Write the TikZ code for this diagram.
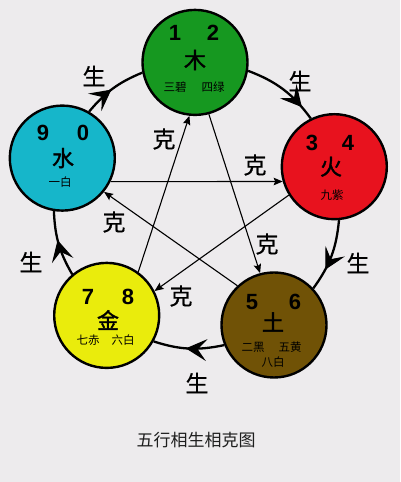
\documentclass[tikz,border=0pt]{standalone}
\usepackage{fontspec}
\setmainfont{Noto Sans CJK SC}
\newfontfamily\cjkb[FakeBold=1.6]{Noto Sans CJK SC}
\newfontfamily\cjkm[FakeBold=0.5]{Noto Sans CJK SC}
\newfontfamily\numf{Liberation Sans}
\usetikzlibrary{arrows.meta,decorations.markings}
\definecolor{bgc}{RGB}{237,235,237}
\definecolor{woodc}{RGB}{22,152,32}
\definecolor{firec}{RGB}{232,18,30}
\definecolor{waterc}{RGB}{22,182,202}
\definecolor{metalc}{RGB}{234,236,12}
\definecolor{earthc}{RGB}{112,82,6}
\definecolor{titlec}{RGB}{30,30,30}
\begin{document}
\begin{tikzpicture}[x=1pt,y=1pt,
  elem/.style={circle,draw=black,line width=2.4pt,minimum size=105pt,inner sep=0pt},
  num/.style={font=\numf\bfseries\fontsize{22}{22}\selectfont,inner sep=0pt},
  big/.style={font=\cjkb\fontsize{22}{22}\selectfont,inner sep=0pt},
  small/.style={font=\fontsize{11.5}{11.5}\selectfont,inner sep=0pt},
  lab/.style={font=\cjkm\fontsize{23}{23}\selectfont,inner sep=0pt},
  ke/.style={line width=1.1pt,-{Stealth[length=9pt,width=7.5pt,inset=1.5pt]}},
  shengat/.style={line width=2.3pt,
    decoration={markings,mark=at position #1 with {\arrow[line width=1pt]{Stealth[length=21pt,width=22pt,inset=9pt]}}},
    postaction={decorate}},
]
\path[fill=bgc,use as bounding box] (0,0) rectangle (400,482);

% element circles
\node[elem,fill=woodc]  (wood)  at (195.0,419.6) {};
\node[elem,fill=firec]  (fire)  at (334.3,315.3) {};
\node[elem,fill=waterc] (water) at (62.3,323.9) {};
\node[elem,fill=metalc] (metal) at (106.7,166.6) {};
\node[elem,fill=earthc] (earth) at (274.0,157.0) {};

% generating cycle (生)
\draw[shengat=0.47] (water.60.2) to[bend left=13.8] (wood.191.4);
\draw[shengat=0.82] (wood.-9.8) to[bend left=16.4] (fire.116.2);
\draw[shengat=0.70] (fire.-85) to[bend left=15.25] (earth.43.3);
\draw[shengat=0.54] (earth.202.1) to[bend left=14.8] (metal.331.3);
\draw[shengat=0.56] (metal.130.1) to[bend left=13.75] (water.261.4);

% controlling star (克)
\draw[ke] (water.-26.9) -- (fire.196.3);
\draw[ke] (fire.212) -- (metal.27);
\draw[ke] (metal.54) -- (wood.264);
\draw[ke] (wood.285) -- (earth.105);
\draw[ke] (earth.133) -- (water.-39);

% wood texts
\node[num]   (w1) at ([shift={(-20,29.4)}]wood) {1};
\node[num]   (w2) at ([shift={(18,29.4)}]wood) {2};
\node[big]   (wc) at ([shift={(0,2.4)}]wood) {木};
\node[small] (ws1) at ([shift={(-20,-24.6)}]wood) {三碧};
\node[small] (ws2) at ([shift={(18,-24.6)}]wood) {四绿};
% fire texts
\node[num]   (f1) at ([shift={(-22.3,23.7)}]fire) {3};
\node[num]   (f2) at ([shift={(13.7,23.7)}]fire) {4};
\node[big]   (fc) at ([shift={(-3.3,0)}]fire) {火};
\node[small] (fs1) at ([shift={(-2.3,-28.3)}]fire) {九紫};
% water texts
\node[num]   (a1) at ([shift={(-19.3,25.1)}]water) {9};
\node[num]   (a2) at ([shift={(20.7,25.1)}]water) {0};
\node[big]   (ac) at ([shift={(0.7,0)}]water) {水};
\node[small] (as1) at ([shift={(-2.3,-23.9)}]water) {一白};
% metal texts
\node[num]   (m1) at ([shift={(-18.7,18.4)}]metal) {7};
\node[num]   (m2) at ([shift={(21.3,18.4)}]metal) {8};
\node[big]   (mc) at ([shift={(1.3,-4.6)}]metal) {金};
\node[small] (ms1) at ([shift={(-18.7,-24.6)}]metal) {七赤};
\node[small] (ms2) at ([shift={(16.3,-24.6)}]metal) {六白};
% earth texts
\node[num]   (e1) at ([shift={(-22,23)}]earth) {5};
\node[num]   (e2) at ([shift={(21,23)}]earth) {6};
\node[big]   (ec) at ([shift={(-1,3)}]earth) {土};
\node[small] (es1) at ([shift={(-21,-22)}]earth) {二黑};
\node[small] (es2) at ([shift={(16,-22)}]earth) {五黄};
\node[small] (es3) at ([shift={(-1,-37)}]earth) {八白};

% 生 labels
\node[lab] (s1) at (94,406) {生};
\node[lab] (s2) at (300,401) {生};
\node[lab] (s3) at (358,219) {生};
\node[lab] (s4) at (197,99) {生};
\node[lab] (s5) at (31,220) {生};

% 克 labels
\node[lab] (k1) at (164,343) {克};
\node[lab] (k2) at (255,317) {克};
\node[lab] (k3) at (114,260) {克};
\node[lab] (k4) at (267,238) {克};
\node[lab] (k5) at (181,186) {克};

% title
\node[font=\fontsize{17}{17}\selectfont,text=titlec] (title) at (196,42) {五行相生相克图};
\end{tikzpicture}
\end{document}
